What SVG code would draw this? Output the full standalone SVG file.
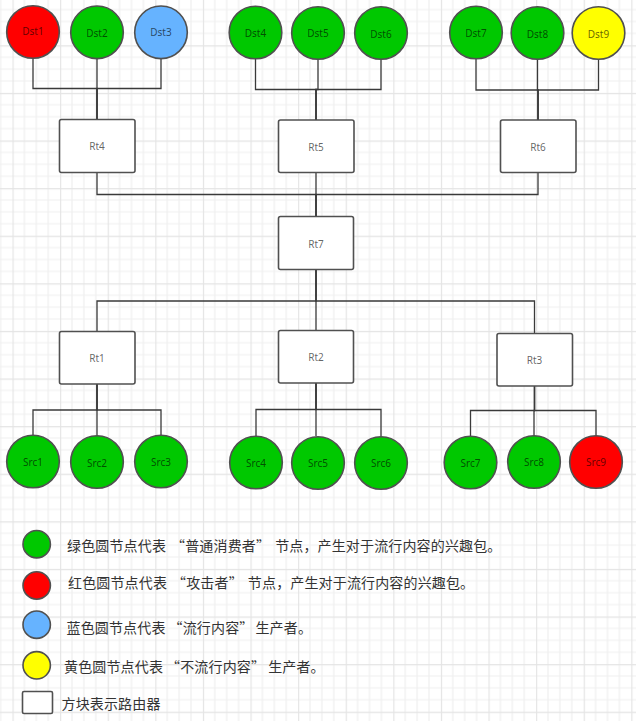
<svg xmlns="http://www.w3.org/2000/svg" width="636" height="721" viewBox="0 0 636 721">
<style>
.node circle{stroke:#505050;stroke-width:1.6}
.g{fill:#00c800}.r{fill:#ff0000}.b{fill:#66b3ff}.y{fill:#ffff00}
.rt rect{fill:#fff;stroke:#505050;stroke-width:1.6}
.lbl{font-family:"Noto Sans","DejaVu Sans",sans-serif;font-size:10px;fill:#000;fill-opacity:0.62;text-anchor:middle;dominant-baseline:central}
#connectors path{fill:none;stroke:#3a3a3a;stroke-width:1.3}
.leg{font-family:"Noto Sans CJK SC","Noto Sans",sans-serif;font-size:14px;fill:#333;dominant-baseline:central;letter-spacing:0.15px}
</style>
<defs>
<pattern id="grid" patternUnits="userSpaceOnUse" x="12.5" y="45.3" width="47.6" height="47.6">
<path d="M11.9 0V47.6M23.8 0V47.6M35.7 0V47.6M0 11.9H47.6M0 23.8H47.6M0 35.7H47.6" stroke="#efefef" stroke-width="1.2" fill="none"/>
<path d="M0.5 0V47.6M0 0.5H47.6" stroke="#e4e4e4" stroke-width="1.3" fill="none"/>
</pattern>
</defs>
<rect width="636" height="721" fill="#fff"/>
<rect width="636" height="721" fill="url(#grid)"/>
<g id="connectors">
<path d="M33 58V88.5H97V119"/>
<path d="M97 58V119"/>
<path d="M161 58V88.5H97V119"/>
<path d="M255.5 58V89.5H316V120"/>
<path d="M318 58V89.5H316V120"/>
<path d="M381 58V89.5H316V120"/>
<path d="M476 58V90H538V120"/>
<path d="M537.5 58V90H538V120"/>
<path d="M598.5 58V90H538V120"/>
<path d="M97 172.5V194.5H316V216"/>
<path d="M316 172.5V216"/>
<path d="M538 172.5V194.5H316V216"/>
<path d="M316 269.5V301H97V331"/>
<path d="M316 269.5V330"/>
<path d="M316 269.5V301H534.5V333"/>
<path d="M97 384V410H33V435.5"/>
<path d="M97 384V435.5"/>
<path d="M97 384V410H161V435.5"/>
<path d="M316 383V409.5H256V436"/>
<path d="M316 383V436"/>
<path d="M316 383V409.5H381V436"/>
<path d="M534.5 386V410.5H470.5V436"/>
<path d="M534.5 386V410.5H534V436"/>
<path d="M534.5 386V410.5H596V436"/>
</g>
<g id="Dst1" class="node"><circle class="r" cx="33" cy="32" r="26.3"/><text class="lbl" x="33" y="31">Dst1</text></g>
<g id="Dst2" class="node"><circle class="g" cx="97" cy="32.3" r="26.3"/><text class="lbl" x="97" y="33">Dst2</text></g>
<g id="Dst3" class="node"><circle class="b" cx="161" cy="32.3" r="26.3"/><text class="lbl" x="161" y="32">Dst3</text></g>
<g id="Dst4" class="node"><circle class="g" cx="255.5" cy="32.5" r="26.3"/><text class="lbl" x="255.5" y="33">Dst4</text></g>
<g id="Dst5" class="node"><circle class="g" cx="318" cy="33" r="26.3"/><text class="lbl" x="318" y="33">Dst5</text></g>
<g id="Dst6" class="node"><circle class="g" cx="381" cy="33" r="26.3"/><text class="lbl" x="381" y="33.5">Dst6</text></g>
<g id="Dst7" class="node"><circle class="g" cx="476" cy="32.5" r="26.3"/><text class="lbl" x="476" y="32.5">Dst7</text></g>
<g id="Dst8" class="node"><circle class="g" cx="537.5" cy="33" r="26.3"/><text class="lbl" x="537.5" y="33.5">Dst8</text></g>
<g id="Dst9" class="node"><circle class="y" cx="598.5" cy="33" r="26.3"/><text class="lbl" x="598.5" y="33.5">Dst9</text></g>
<g id="Rt4" class="rt"><rect x="59.5" y="119.5" width="75.5" height="53" rx="2"/><text class="lbl" x="97" y="146">Rt4</text></g>
<g id="Rt5" class="rt"><rect x="278.5" y="120" width="75.5" height="52.5" rx="2"/><text class="lbl" x="316" y="147">Rt5</text></g>
<g id="Rt6" class="rt"><rect x="500.5" y="120" width="75.5" height="52.5" rx="2"/><text class="lbl" x="538" y="147">Rt6</text></g>
<g id="Rt7" class="rt"><rect x="278.5" y="216.5" width="75" height="53" rx="2"/><text class="lbl" x="316" y="243.5">Rt7</text></g>
<g id="Rt1" class="rt"><rect x="59.5" y="331.5" width="75.5" height="52.5" rx="2"/><text class="lbl" x="97" y="358">Rt1</text></g>
<g id="Rt2" class="rt"><rect x="278.5" y="330.5" width="75" height="52.5" rx="2"/><text class="lbl" x="316" y="356.5">Rt2</text></g>
<g id="Rt3" class="rt"><rect x="497" y="333.5" width="75.5" height="52.5" rx="2"/><text class="lbl" x="534.5" y="359.5">Rt3</text></g>
<g id="Src1" class="node"><circle class="g" cx="33" cy="461.5" r="26.3"/><text class="lbl" x="33" y="461.5">Src1</text></g>
<g id="Src2" class="node"><circle class="g" cx="97" cy="462" r="26.3"/><text class="lbl" x="97" y="462.5">Src2</text></g>
<g id="Src3" class="node"><circle class="g" cx="161" cy="461.5" r="26.3"/><text class="lbl" x="161" y="461.5">Src3</text></g>
<g id="Src4" class="node"><circle class="g" cx="256" cy="462.5" r="26.3"/><text class="lbl" x="256" y="462.5">Src4</text></g>
<g id="Src5" class="node"><circle class="g" cx="318" cy="463" r="26.3"/><text class="lbl" x="318" y="463">Src5</text></g>
<g id="Src6" class="node"><circle class="g" cx="381" cy="463" r="26.3"/><text class="lbl" x="381" y="463">Src6</text></g>
<g id="Src7" class="node"><circle class="g" cx="470.5" cy="462.5" r="26.3"/><text class="lbl" x="470.5" y="462.5">Src7</text></g>
<g id="Src8" class="node"><circle class="g" cx="534" cy="462" r="26.3"/><text class="lbl" x="534" y="461.5">Src8</text></g>
<g id="Src9" class="node"><circle class="r" cx="596" cy="462" r="26.3"/><text class="lbl" x="596" y="461.5">Src9</text></g>
<g id="legend">
<g id="leg-green" class="node"><circle class="g" cx="36.7" cy="544.2" r="13.7"/><text class="leg" x="67" y="544.5">绿色圆节点代表<tspan dx="5">“</tspan>普通消费者”<tspan dx="5">节点，产生对于流行内容的兴趣包。</tspan></text></g>
<g id="leg-red" class="node"><circle class="r" cx="36.7" cy="585.5" r="13.7"/><text class="leg" x="68" y="582">红色圆节点代表<tspan dx="5">“</tspan>攻击者”<tspan dx="5">节点，产生对于流行内容的兴趣包。</tspan></text></g>
<g id="leg-blue" class="node"><circle class="b" cx="36.7" cy="624.7" r="13.7"/><text class="leg" x="66.5" y="626.5">蓝色圆节点代表<tspan dx="3">“</tspan>流行内容”<tspan dx="2">生产者。</tspan></text></g>
<g id="leg-yellow" class="node"><circle class="y" cx="36.7" cy="665.3" r="13.7"/><text class="leg" x="64" y="666">黄色圆节点代表<tspan dx="3">“</tspan>不流行内容”<tspan dx="3">生产者。</tspan></text></g>
<g id="leg-router" class="rt"><rect x="22.5" y="691.5" width="30" height="22" rx="1.5"/><text class="leg" x="61.5" y="702.5">方块表示路由器</text></g>
</g>
</svg>
